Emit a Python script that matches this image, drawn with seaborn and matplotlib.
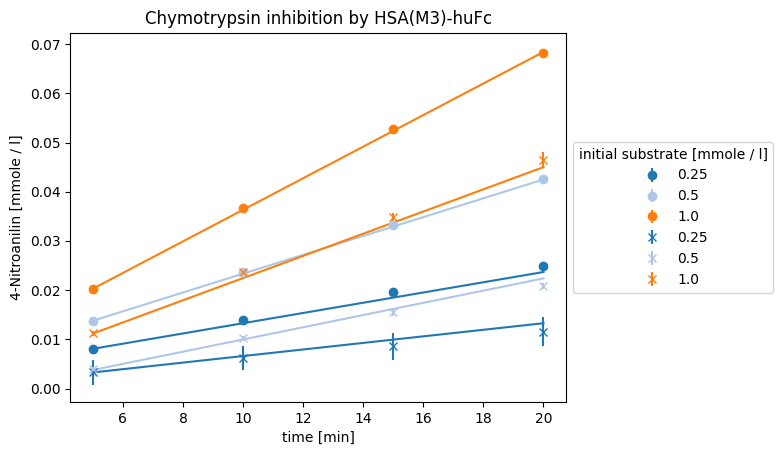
import numpy as np
import pandas as pd
import seaborn as sns
import matplotlib
matplotlib.use('Agg')
import matplotlib.pyplot as plt

# Messdaten
time_min = [5, 10, 15, 20]
substrate = ['0.25', '0.5', '1.0']
colors = ['#1f77b4', '#aec7e8', '#ff7f0e']

# Kreise (erste Messreihe)
circle_vals = {
    '0.25': [0.0081, 0.0140, 0.0197, 0.0250],
    '0.5': [0.0137, 0.0236, 0.0332, 0.0425],
    '1.0': [0.0203, 0.0368, 0.0527, 0.0682],
}
circle_err = {
    '0.25': [0.0003, 0.0003, 0.0004, 0.0004],
    '0.5': [0.0003, 0.0003, 0.0003, 0.0003],
    '1.0': [0.0003, 0.0003, 0.0003, 0.0006],
}

# Kreuze (zweite Messreihe)
cross_vals = {
    '0.25': [0.0033, 0.0062, 0.0086, 0.0116],
    '0.5': [0.0039, 0.0102, 0.0155, 0.0208],
    '1.0': [0.0113, 0.0236, 0.0348, 0.0465],
}
cross_err = {
    '0.25': [0.0026, 0.0025, 0.0027, 0.0029],
    '0.5': [0.0006, 0.0006, 0.0008, 0.0006],
    '1.0': [0.0005, 0.0006, 0.0008, 0.0015],
}

# Fitgeraden (Werte bei t = 5 und t = 20)
fit_time = [5, 20]
circle_fit = {
    '0.25': [0.0081, 0.0237],
    '0.5': [0.0138, 0.0425],
    '1.0': [0.0203, 0.0684],
}
cross_fit = {
    '0.25': [0.0033, 0.0133],
    '0.5': [0.0038, 0.0224],
    '1.0': [0.0112, 0.0450],
}

fig, ax = plt.subplots(figsize=(7.83, 4.55), dpi=100)
fig.subplots_adjust(left=0.0898, right=0.7229, top=0.9281, bottom=0.1165)

for vals, errs, fits, fmt in [(circle_vals, circle_err, circle_fit, 'o'),
                              (cross_vals, cross_err, cross_fit, 'x')]:
    for s, c in zip(substrate, colors):
        ax.errorbar(time_min, vals[s], yerr=errs[s], fmt=fmt, color=c, label=s)
        fit_df = pd.DataFrame({'t': fit_time, 'y': fits[s]})
        sns.lineplot(data=fit_df, x='t', y='y', color=c, linewidth=1.5, ax=ax, legend=False)

ax.set_title('Chymotrypsin inhibition by HSA(M3)-huFc')
ax.set_xlabel('time [min]')
ax.set_ylabel('4-Nitroanilin [mmole / l]')
ax.set_xlim(4.25, 20.75)
ax.set_ylim(-0.0027, 0.0723)
ax.set_xticks([6, 8, 10, 12, 14, 16, 18, 20])
ax.set_yticks(np.arange(0, 0.071, 0.01))
ax.yaxis.set_major_formatter(matplotlib.ticker.FormatStrFormatter('%.2f'))

handles, labels = ax.get_legend_handles_labels()
ax.legend(handles, labels, title='initial substrate [mmole / l]',
          loc='center left', bbox_to_anchor=(1.0, 0.5))

plt.savefig('out.png', dpi=100)
